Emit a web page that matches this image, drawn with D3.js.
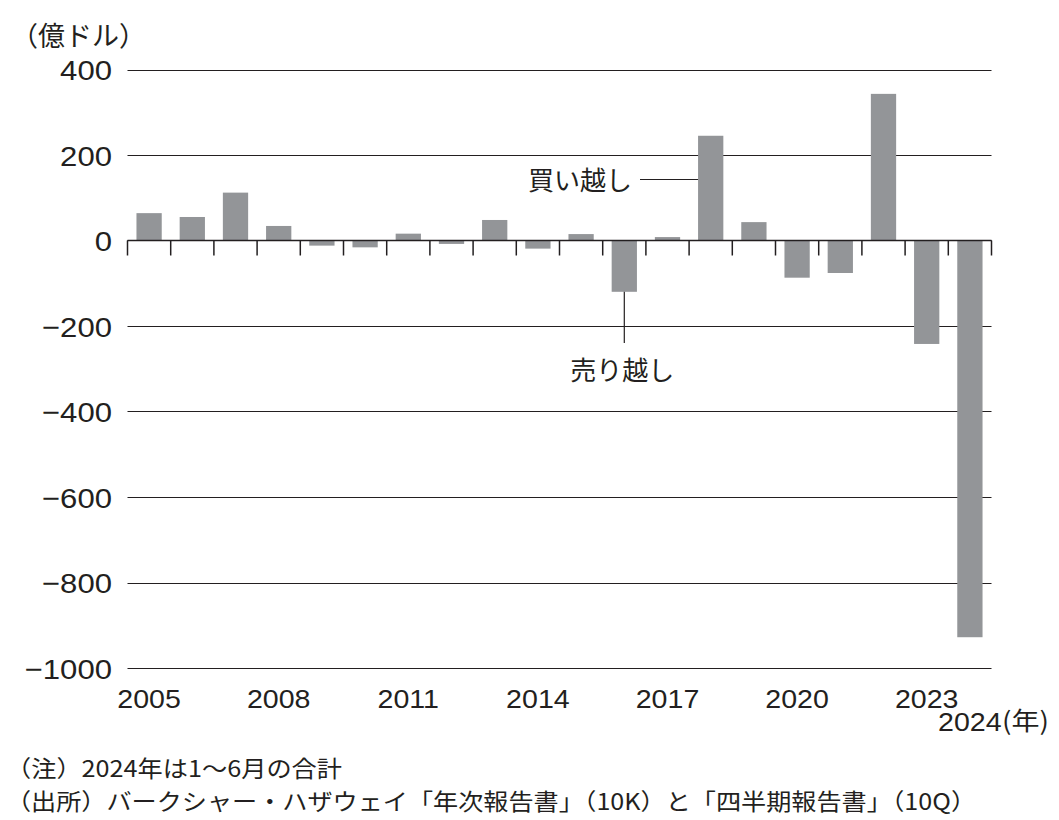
<!DOCTYPE html>
<html><head><meta charset="utf-8">
<script src="https://cdn.jsdelivr.net/npm/d3@7"></script>
<style>body{margin:0;background:#fff}svg{display:block}</style>
</head><body>
<svg id="c" width="1059" height="820"></svg>
<script>
const years = [2005,2006,2007,2008,2009,2010,2011,2012,2013,2014,2015,2016,2017,2018,2019,2020,2021,2022,2023,2024];
const values = [64,55,112,34,-12,-16,16,-8,48,-19,15,-120,8,245,43,-87,-76,343,-242,-928];
const yTicks = [400,200,0,-200,-400,-600,-800,-1000];
const xLabelYears = [2005,2008,2011,2014,2017,2020,2023];
const unitLabel = "（億ドル）";
const noteLines = ["（注）2024年は1〜6月の合計","（出所）バークシャー・ハザウェイ「年次報告書」（10K）と「四半期報告書」（10Q）"];

const svg = d3.select("#c");
const ink = "#231f20", barColor = "#939598";
const sans = "'Liberation Sans', Arial, sans-serif";
const jp = "'Noto Sans CJK JP', sans-serif";

const x = d3.scaleBand().domain(years).range([127.5, 991.5]).paddingInner(0.415).paddingOuter(0.2075);
const xb = d3.scaleBand().domain(years).range([127.5, 991.5]);
const y = d3.scaleLinear().domain([-1000, 400]).range([668, 69.5]);

function stretch(sel, f) {
  sel.each(function() {
    const w = this.getComputedTextLength();
    d3.select(this).attr("textLength", w * f).attr("lengthAdjust", "spacingAndGlyphs");
  });
}

// grid lines
svg.append("g").selectAll("line").data(yTicks).join("line")
  .attr("x1", 127.5).attr("x2", 991.5)
  .attr("y1", d => Math.round(y(d)) + 0.5).attr("y2", d => Math.round(y(d)) + 0.5)
  .attr("stroke", ink).attr("stroke-width", 1.2);

// y labels
svg.append("g").selectAll("text").data(yTicks).join("text")
  .attr("x", 112).attr("y", d => y(d) + 10.5)
  .attr("text-anchor", "end").attr("font-family", sans).attr("font-size", 28.4).attr("fill", ink)
  .text(d => d < 0 ? "\u2212" + Math.abs(d) : d)
  .call(stretch, 1.095);

// bars
svg.append("g").selectAll("rect").data(values).join("rect")
  .attr("x", (d, i) => x(years[i])).attr("width", x.bandwidth())
  .attr("y", d => y(Math.max(0, d))).attr("height", d => Math.abs(y(d) - y(0)))
  .attr("fill", barColor);

// zero line redraw and ticks
const y0 = Math.round(y(0)) + 0.5;
svg.append("line").attr("x1", 127.5).attr("x2", 991.5).attr("y1", y0).attr("y2", y0).attr("stroke", ink).attr("stroke-width", 1.5);
const tickPos = years.map(d => xb(d)).concat([xb(2024) + xb.bandwidth()]);
svg.append("g").selectAll("line").data(tickPos).join("line")
  .attr("x1", d => d).attr("x2", d => d).attr("y1", y0).attr("y2", y0 + 15)
  .attr("stroke", ink).attr("stroke-width", 1.5);

// x labels
svg.append("g").selectAll("text").data(xLabelYears).join("text")
  .attr("x", d => xb(d) + xb.bandwidth() / 2).attr("y", 707.5)
  .attr("text-anchor", "middle").attr("font-family", sans).attr("font-size", 26.7).attr("fill", ink)
  .text(d => d)
  .call(stretch, 1.07);
const lastYear = svg.append("text").attr("x", 938).attr("y", 731)
  .attr("font-family", sans).attr("font-size", 26.7).attr("fill", ink).text("2024")
  .call(stretch, 1.07);
svg.append("text").attr("x", 1002).attr("y", 730).attr("font-family", jp).attr("font-size", 25).attr("fill", ink)
  .attr("textLength", 47).attr("lengthAdjust", "spacingAndGlyphs").text("(年)");

// unit label
svg.append("text").attr("x", 11).attr("y", 46).attr("font-family", jp).attr("font-size", 27).attr("fill", ink).text(unitLabel);

// annotations
const i2016 = years.indexOf(2016);
const buyY = 179.5;
svg.append("line").attr("x1", 640).attr("x2", x(2018)).attr("y1", buyY).attr("y2", buyY).attr("stroke", ink).attr("stroke-width", 1.2);
svg.append("text").attr("x", 632).attr("y", buyY + 10).attr("text-anchor", "end").attr("font-family", jp).attr("font-size", 26).attr("fill", ink).text("買い越し");
const sx = x(2016) + x.bandwidth() / 2;
svg.append("line").attr("x1", sx).attr("x2", sx).attr("y1", y(values[i2016])).attr("y2", 343).attr("stroke", ink).attr("stroke-width", 1.2);
svg.append("text").attr("x", sx - 2).attr("y", 380).attr("text-anchor", "middle").attr("font-family", jp).attr("font-size", 26).attr("fill", ink).text("売り越し");

// notes
svg.append("text").attr("x", 6).attr("y", 777).attr("font-family", jp).attr("font-size", 23).attr("fill", ink)
  .attr("textLength", 336).attr("lengthAdjust", "spacingAndGlyphs").text(noteLines[0]);
svg.append("text").attr("x", 6).attr("y", 810).attr("font-family", jp).attr("font-size", 23).attr("fill", ink)
  .attr("textLength", 970).attr("lengthAdjust", "spacingAndGlyphs").text(noteLines[1]);
</script>
</body></html>
